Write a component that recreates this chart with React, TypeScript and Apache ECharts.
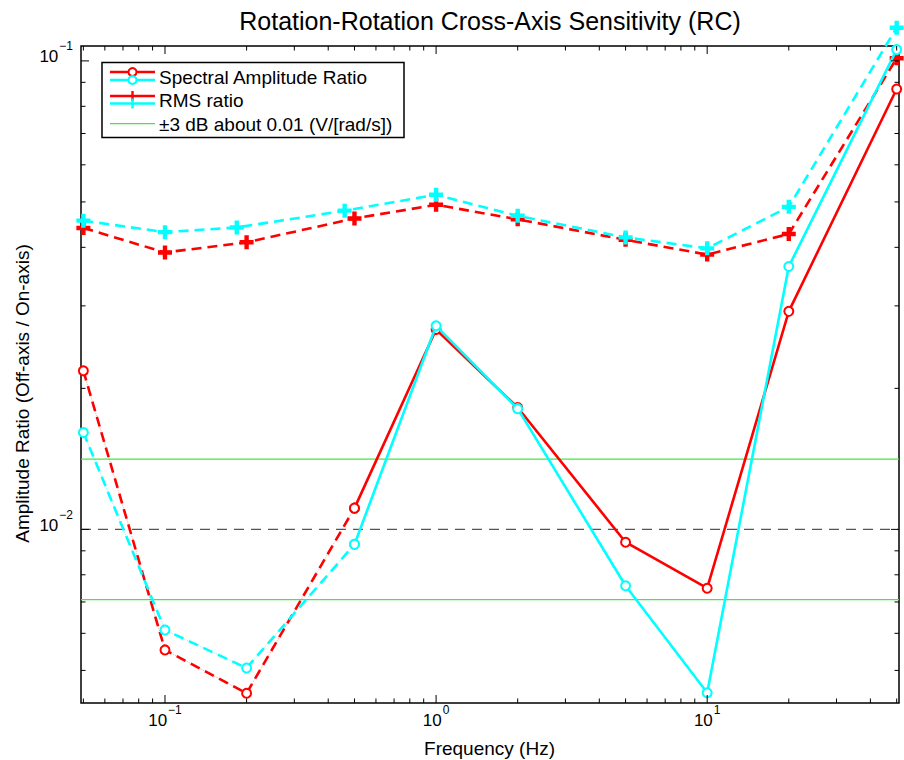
import React, { useEffect, useRef } from 'react';
import * as echarts from 'echarts';

// ---- axis ranges ----
const X_MIN = 0.049;
const X_MAX = 51;
const Y_MIN = 0.00426;
const Y_MAX = 0.1076;

// ---- Spectral amplitude ratio (circles) ----
const specFreq = [0.05, 0.1, 0.2, 0.5, 1, 2, 5, 10, 20, 50];
const specRed = [0.0218, 0.00553, 0.00447, 0.0111, 0.0267, 0.0182, 0.00939, 0.00749, 0.0292, 0.0871];
const specCyan = [0.0161, 0.0061, 0.00506, 0.00929, 0.0272, 0.0181, 0.00758, 0.00448, 0.0364, 0.1057];
const SPEC_DASHED_LAST = 3; // low-frequency part (index 0..3) drawn dashed

// ---- RMS ratio (plus markers) ----
const rmsFreqRed = [0.05, 0.1, 0.2, 0.5, 1, 2, 5, 10, 20, 50];
const rmsRed = [0.0440, 0.0390, 0.0410, 0.0461, 0.0493, 0.0459, 0.0415, 0.0386, 0.0427, 0.1013];
const rmsFreqCyan = [0.05, 0.1, 0.184, 0.46, 1, 2, 5, 10, 20, 50];
const rmsCyan = [0.0456, 0.0431, 0.0441, 0.0479, 0.0518, 0.0467, 0.0420, 0.0398, 0.0488, 0.1177];

// ---- reference lines ----
const REF_LEVEL = 0.01;
const DB3_UPPER = 0.01413;
const DB3_LOWER = 0.00708;

// ---- ticks ----
const xTicksMajor = [0.1, 1, 10];
const xTicksMinor = [0.05, 0.06, 0.07, 0.08, 0.09, 0.2, 0.3, 0.4, 0.5, 0.6, 0.7, 0.8, 0.9, 2, 3, 4, 5, 6, 7, 8, 9, 20, 30, 40, 50];
const yTicksMajor = [0.01, 0.1];
const yTicksMinor = [0.005, 0.006, 0.007, 0.008, 0.009, 0.02, 0.03, 0.04, 0.05, 0.06, 0.07, 0.08, 0.09];

// ---- texts ----
const TITLE = 'Rotation-Rotation Cross-Axis Sensitivity (RC)';
const X_NAME = 'Frequency (Hz)';
const Y_NAME = 'Amplitude Ratio (Off-axis / On-axis)';
const LEGEND_LABELS = ['Spectral Amplitude Ratio', 'RMS ratio', '\u00b13 dB about 0.01 (V/[rad/s])'];

const FONT = '"Liberation Sans", Arial, Helvetica, sans-serif';
const RED = '#ff0000';
const CYAN = '#00ffff';
const GREEN = '#44e844';
const PLUS = 'path://M4,0H6V4H10V6H6V10H4V6H0V4H4Z';

const zip = (xs: number[], ys: number[]) => xs.map((x, i) => [x, ys[i]]);

const expFormatter = (v: number) => {
  const l = Math.log10(v);
  const e = Math.round(l);
  if (Math.abs(l - e) > 1e-6) return '';
  const s = e < 0 ? '\u2212' + -e : String(e);
  return `{b|10}{s|${s}}`;
};

const rich = {
  b: { fontSize: 17, lineHeight: 17, verticalAlign: 'bottom', fontFamily: FONT, color: '#000' },
  s: { fontSize: 12, lineHeight: 12, verticalAlign: 'bottom', padding: [0, 0, 13, 1], fontFamily: FONT, color: '#000' },
};

const tickSeries = (axis: 'x' | 'y', values: number[], len: number) => ({
  type: 'custom',
  silent: true,
  clip: false,
  z: 6,
  data: values.map((v) => (axis === 'x' ? [v, Y_MIN] : [X_MIN, v])),
  renderItem: (params: any, api: any) => {
    const cs = params.coordSys;
    const p = api.coord([api.value(0), api.value(1)]);
    const style = { stroke: '#000', lineWidth: 1 };
    if (axis === 'x') {
      const x = p[0];
      return {
        type: 'group',
        children: [
          { type: 'line', shape: { x1: x, y1: cs.y + cs.height, x2: x, y2: cs.y + cs.height - len }, style },
          { type: 'line', shape: { x1: x, y1: cs.y, x2: x, y2: cs.y + len }, style },
        ],
      };
    }
    const y = p[1];
    return {
      type: 'group',
      children: [
        { type: 'line', shape: { x1: cs.x, y1: y, x2: cs.x + len, y2: y }, style },
        { type: 'line', shape: { x1: cs.x + cs.width, y1: y, x2: cs.x + cs.width - len, y2: y }, style },
      ],
    };
  },
});

const lineSeries = (data: number[][], color: string, dashed: boolean, symbol: string, extra: any = {}) => ({
  type: 'line',
  data,
  clip: false,
  silent: true,
  symbol,
  symbolSize: symbol === 'emptyCircle' ? 9 : 12,
  showSymbol: true,
  lineStyle: { color, width: 2.6, type: dashed ? [10, 6] : 'solid' },
  itemStyle: { color, borderColor: color, borderWidth: 2 },
  z: 3,
  ...extra,
});

const underlay = (data: number[][], color: string) => ({
  type: 'line',
  data,
  clip: false,
  silent: true,
  symbol: 'none',
  lineStyle: { color, width: 1, type: 'dotted' },
  z: 2,
});

const hLine = (level: number, color: string, width: number, type: any) => ({
  type: 'line',
  data: [[X_MIN, level], [X_MAX, level]],
  silent: true,
  symbol: 'none',
  lineStyle: { color, width, type },
  z: 1,
});

const legendGraphics = () => {
  const x0 = 110, x1 = 155, xm = 132.5;
  const els: any[] = [
    { type: 'rect', shape: { x: 102, y: 62.5, width: 302, height: 75 }, style: { fill: '#fff', stroke: '#000', lineWidth: 1.5 } },
    // row 1: spectral
    { type: 'line', shape: { x1: x0, y1: 72, x2: x1, y2: 72 }, style: { stroke: RED, lineWidth: 2.6 } },
    { type: 'circle', shape: { cx: xm, cy: 72, r: 4 }, style: { fill: '#fff', stroke: RED, lineWidth: 2 } },
    { type: 'line', shape: { x1: x0, y1: 80, x2: x1, y2: 80 }, style: { stroke: CYAN, lineWidth: 2.6 } },
    { type: 'circle', shape: { cx: xm, cy: 80, r: 4 }, style: { fill: '#fff', stroke: CYAN, lineWidth: 2 } },
    // row 2: rms
    { type: 'line', shape: { x1: x0, y1: 96, x2: x1, y2: 96 }, style: { stroke: RED, lineWidth: 2.6 } },
    { type: 'line', shape: { x1: xm, y1: 91, x2: xm, y2: 101 }, style: { stroke: RED, lineWidth: 2.4 } },
    { type: 'line', shape: { x1: x0, y1: 103.5, x2: x1, y2: 103.5 }, style: { stroke: CYAN, lineWidth: 2.6 } },
    { type: 'line', shape: { x1: xm, y1: 98.5, x2: xm, y2: 108.5 }, style: { stroke: CYAN, lineWidth: 2.4 } },
    // row 3: green
    { type: 'rect', shape: { x: x0, y: 123, width: x1 - x0, height: 1.2 }, style: { fill: GREEN } },
  ];
  const ys = [77, 100, 124];
  LEGEND_LABELS.forEach((t, i) => {
    els.push({ type: 'text', x: 159, y: ys[i], style: { text: t, fontSize: 19, fontFamily: FONT, fill: '#000', verticalAlign: 'middle', align: 'left' } });
  });
  return els.map((e) => ({ ...e, z: 100, silent: true }));
};

export default function App() {
  const ref = useRef<HTMLDivElement>(null);

  useEffect(() => {
    document.body.style.margin = '0';
    if (!ref.current) return;
    const chart = echarts.init(ref.current, undefined, { renderer: 'svg' });

    const specRedPts = zip(specFreq, specRed);
    const specCyanPts = zip(specFreq, specCyan);

    chart.setOption({
      animation: false,
      backgroundColor: '#fff',
      textStyle: { fontFamily: FONT },
      grid: { left: 81, right: 5, top: 46, bottom: 57, show: true, borderColor: '#000', borderWidth: 1.5, backgroundColor: 'transparent' },
      xAxis: {
        type: 'log',
        logBase: 10,
        min: X_MIN,
        max: X_MAX,
        axisLine: { show: false },
        axisTick: { show: false },
        splitLine: { show: false },
        axisLabel: { formatter: expFormatter, rich, margin: 9, color: '#000' },
      },
      yAxis: {
        type: 'log',
        logBase: 10,
        min: Y_MIN,
        max: Y_MAX,
        axisLine: { show: false },
        axisTick: { show: false },
        splitLine: { show: false },
        axisLabel: { formatter: expFormatter, rich, margin: 8, color: '#000', padding: [0, 0, 8, 0] },
      },
      series: [
        hLine(DB3_UPPER, GREEN, 1.2, 'solid'),
        hLine(DB3_LOWER, GREEN, 1.2, 'solid'),
        hLine(REF_LEVEL, '#555', 1.3, [10, 7]),
        underlay(specRedPts.slice(0, SPEC_DASHED_LAST + 1), 'rgba(255,0,0,0.35)'),
        lineSeries(specRedPts.slice(0, SPEC_DASHED_LAST + 1), RED, true, 'emptyCircle'),
        lineSeries(specRedPts.slice(SPEC_DASHED_LAST), RED, false, 'emptyCircle'),
        underlay(specCyanPts.slice(0, SPEC_DASHED_LAST + 1), 'rgba(0,230,230,0.4)'),
        lineSeries(specCyanPts.slice(0, SPEC_DASHED_LAST + 1), CYAN, true, 'emptyCircle', { z: 4 }),
        lineSeries(specCyanPts.slice(SPEC_DASHED_LAST), CYAN, false, 'emptyCircle', { z: 4 }),
        lineSeries(zip(rmsFreqRed, rmsRed), RED, true, PLUS),
        lineSeries(zip(rmsFreqCyan, rmsCyan), CYAN, true, PLUS, { z: 4 }),
        tickSeries('x', xTicksMajor, 8),
        tickSeries('x', xTicksMinor, 4.5),
        tickSeries('y', yTicksMajor, 8),
        tickSeries('y', yTicksMinor, 4.5),
      ],
      graphic: [
        { type: 'text', x: 490, y: 21, z: 100, style: { text: TITLE, fontSize: 25, fontFamily: FONT, fill: '#000', align: 'center', verticalAlign: 'middle' } },
        { type: 'text', x: 489.5, y: 748, z: 100, style: { text: X_NAME, fontSize: 19, fontFamily: FONT, fill: '#000', align: 'center', verticalAlign: 'middle' } },
        { type: 'text', x: 22.5, y: 393.5, rotation: Math.PI / 2, z: 100, style: { text: Y_NAME, fontSize: 19, fontFamily: FONT, fill: '#000', align: 'center', verticalAlign: 'middle' } },
        ...legendGraphics(),
      ],
    });

    return () => chart.dispose();
  }, []);

  return <div ref={ref} style={{ width: 904, height: 760 }} />;
}
